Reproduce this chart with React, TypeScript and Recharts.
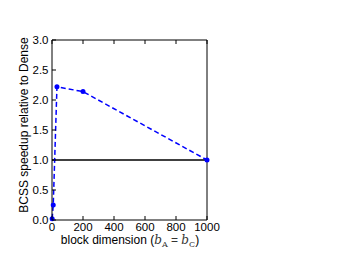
import { Line, LineChart, ReferenceLine, XAxis, YAxis } from 'recharts';

const blockDims = [1, 8, 32, 200, 1000];
const speedups = [0.02, 0.25, 2.22, 2.14, 1.0];
const xTicks = [0, 200, 400, 600, 800, 1000];
const yTicks = [0, 0.5, 1, 1.5, 2, 2.5, 3];

const data = blockDims.map((b, i) => ({ b, speedup: speedups[i] }));

const font = '"Liberation Sans", Arial, sans-serif';

function BottomTick({ x, y, payload }: any) {
  return (
    <g>
      <line x1={x} y1={y} x2={x} y2={y - 4} stroke="#000" strokeWidth={1} />
      <text x={x} y={y + 11} textAnchor="middle" fontSize={11.5} fontFamily={font} fill="#000">
        {payload.value}
      </text>
    </g>
  );
}

function LeftTick({ x, y, payload }: any) {
  return (
    <g>
      <line x1={x} y1={y} x2={x + 4} y2={y} stroke="#000" strokeWidth={1} />
      <text x={x - 3.5} y={y + 4} textAnchor="end" fontSize={11.5} fontFamily={font} fill="#000">
        {payload.value.toFixed(1)}
      </text>
    </g>
  );
}

function TopTick({ x, y }: any) {
  return <line x1={x} y1={y} x2={x} y2={y + 4} stroke="#000" strokeWidth={1} />;
}

function RightTick({ x, y }: any) {
  return <line x1={x} y1={y} x2={x - 4} y2={y} stroke="#000" strokeWidth={1} />;
}

export default function App() {
  return (
    <div style={{ position: 'absolute', left: 0, top: 0, width: 346, height: 260, background: '#fff' }}>
      <LineChart width={346} height={260} data={data} margin={{ top: 39, right: 138, bottom: 10, left: 22 }}>
        <XAxis
          xAxisId="bottom"
          dataKey="b"
          type="number"
          domain={[0, 1000]}
          ticks={xTicks}
          height={30}
          tickSize={0}
          tickMargin={0}
          tickLine={false}
          axisLine={{ stroke: '#000', strokeWidth: 1 }}
          tick={<BottomTick />}
          interval={0}
        />
        <XAxis
          xAxisId="top"
          orientation="top"
          dataKey="b"
          type="number"
          domain={[0, 1000]}
          ticks={xTicks}
          height={1}
          tickSize={0}
          tickMargin={0}
          tickLine={false}
          axisLine={{ stroke: '#000', strokeWidth: 1 }}
          tick={<TopTick />}
          interval={0}
        />
        <YAxis
          yAxisId="left"
          type="number"
          domain={[0, 3]}
          ticks={yTicks}
          width={30}
          tickSize={0}
          tickMargin={0}
          tickLine={false}
          axisLine={{ stroke: '#000', strokeWidth: 1 }}
          tick={<LeftTick />}
          interval={0}
        />
        <YAxis
          yAxisId="right"
          orientation="right"
          type="number"
          domain={[0, 3]}
          ticks={yTicks}
          width={1}
          tickSize={0}
          tickMargin={0}
          tickLine={false}
          axisLine={{ stroke: '#000', strokeWidth: 1 }}
          tick={<RightTick />}
          interval={0}
        />
        <ReferenceLine xAxisId="bottom" yAxisId="left" y={1} stroke="#000" strokeWidth={1.5} />
        <Line
          xAxisId="bottom"
          yAxisId="left"
          type="linear"
          dataKey="speedup"
          stroke="#0000ff"
          strokeWidth={1.5}
          strokeDasharray="5 3"
          dot={{ r: 2.5, fill: '#0000ff', stroke: '#0000ff', strokeWidth: 0, strokeDasharray: '' }}
          isAnimationActive={false}
        />
        <text
          x={28}
          y={125}
          transform="rotate(-90 28 125)"
          textAnchor="middle"
          fontSize={12}
          fontFamily={font}
          fill="#000"
        >
          BCSS speedup relative to Dense
        </text>
        <text x={130} y={244} textAnchor="middle" fontSize={12} fontFamily={font} fill="#000">
          block dimension (
          <tspan fontStyle="italic" fontFamily='"DejaVu Serif", serif' fill="#333">b</tspan>
          <tspan fontSize={8} dy={3} fontFamily='"DejaVu Serif", serif' fill="#333">A</tspan>
          <tspan dy={-3} fill="#333"> = </tspan>
          <tspan fontStyle="italic" fontFamily='"DejaVu Serif", serif' fill="#333">b</tspan>
          <tspan fontSize={8} dy={3} fontFamily='"DejaVu Serif", serif' fill="#333">C</tspan>
          <tspan dy={-3}>)</tspan>
        </text>
      </LineChart>
    </div>
  );
}
